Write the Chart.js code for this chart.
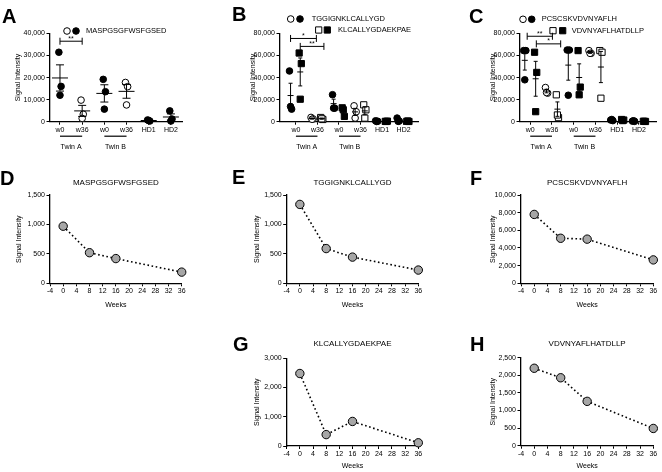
<!DOCTYPE html>
<html>
<head>
<meta charset="utf-8">
<script src="https://cdn.jsdelivr.net/npm/chart.js@4.4.1/dist/chart.umd.min.js"></script>
<style>
  body { margin: 0; background: #fff; }
  #fig { position: relative; width: 662px; height: 472px; overflow: hidden; }
  canvas { position: absolute; }
</style>
</head>
<body>
<div id="fig">
  <canvas id="cA" width="220" height="170" style="left:0;top:0;width:220px;height:170px"></canvas>
  <canvas id="cB" width="220" height="170" style="left:220px;top:0;width:220px;height:170px"></canvas>
  <canvas id="cC" width="222" height="170" style="left:440px;top:0;width:222px;height:170px"></canvas>
  <canvas id="cD" width="220" height="150" style="left:0;top:170px;width:220px;height:150px"></canvas>
  <canvas id="cE" width="220" height="150" style="left:220px;top:170px;width:220px;height:150px"></canvas>
  <canvas id="cF" width="222" height="150" style="left:440px;top:170px;width:222px;height:150px"></canvas>
  <canvas id="cG" width="220" height="152" style="left:220px;top:320px;width:220px;height:152px"></canvas>
  <canvas id="cH" width="222" height="152" style="left:440px;top:320px;width:222px;height:152px"></canvas>
</div>
<script>
// Categorias de los paneles A-C
const catLabels = ['w0', 'w36', 'w0', 'w36', 'HD1', 'HD2'];
const catAbierto = [false, true, false, true, false, false]; // w36 = simbolo abierto

// Panel A (3 valores por grupo)
const aMas = [[31500, 16000, 12000], [9800, 3400, 1500], [19200, 13600, 5700], [17800, 15900, 7600], [800, 300, 500], [4900, 1200, 300]];
// Panel B
const bTgg = [[46000, 11400, 13800], [3900, 2500, 2200], [24500, 12300, 12300], [14400, 9000, 3300], [800, 400, 200], [3300, 600, 300]];
const bKlc = [[62300, 52700, 20400], [3800, 2000, 2600], [12600, 4800, 10800], [15300, 10800, 3300], [300, 500, 200], [400, 200, 600]];
// Panel C
const cPcs = [[64500, 64500, 38000], [31000, 25900, 26500], [65000, 65000, 24000], [64500, 62000, 62000], [1500, 1000, 2000], [500, 300, 800]];
const cVdv = [[63000, 44700, 9100], [24400, 3700, 6100], [64500, 31400, 24400], [64500, 63000, 21300], [2000, 1500, 1000], [400, 200, 300]];

// Paneles D-H
const weeks = [0, 8, 16, 36];
const dMas = [970, 520, 420, 190];
const eTgg = [1340, 590, 445, 225];
const fPcs = [7800, 5100, 5000, 2650];
const gKlc = [2480, 390, 840, 110];
const hVdv = [2200, 1930, 1260, 490];

const fuente = "'Liberation Sans', Arial, sans-serif";
Chart.defaults.font.family = fuente;
Chart.defaults.font.size = 7;
Chart.defaults.color = '#000';
Chart.defaults.animation = false;
Chart.defaults.events = [];
Chart.defaults.plugins.legend.display = false;
Chart.defaults.plugins.tooltip.enabled = false;

// separacion horizontal pequeña entre puntos del mismo grupo
const jit = [-0.05, 0.05, 0];

function sinPadding(s) {
  s.paddingTop = 0; s.paddingBottom = 0; s.paddingLeft = 0; s.paddingRight = 0;
}

function ejeY(max, paso, ancho, tituloPad) {
  return {
    type: 'linear', min: 0, max: max,
    ticks: { stepSize: paso, padding: 1.5, callback: v => v.toLocaleString('en-US') },
    grid: { drawOnChartArea: false, tickLength: 3.5, color: '#000', lineWidth: 1 },
    border: { color: '#000', width: 1.3 },
    title: { display: true, text: 'Signal Intensity', padding: { top: tituloPad, bottom: 0 } },
    afterFit: s => { s.width = ancho; sinPadding(s); }
  };
}

function ejeCat(min, max, alto) {
  return {
    type: 'linear', min: min, max: max,
    afterBuildTicks: s => { s.ticks = catLabels.map((_, i) => ({ value: i })); },
    ticks: { callback: v => catLabels[v], padding: 1, maxRotation: 0, autoSkip: false },
    grid: { drawOnChartArea: false, tickLength: 3, color: '#000' },
    border: { color: '#000', width: 1.3 },
    afterFit: s => { s.height = alto; sinPadding(s); }
  };
}

function ejeWeeks(alto, pad) {
  return {
    type: 'linear', min: -4, max: 36,
    ticks: { stepSize: 4, padding: 1, maxRotation: 0, autoSkip: false },
    grid: { drawOnChartArea: false, tickLength: 3, color: '#000' },
    border: { color: '#000', width: 1.3 },
    title: { display: true, text: 'Weeks', padding: { top: 0, bottom: pad } },
    afterFit: s => { s.height = alto; sinPadding(s); }
  };
}

function puntos(valores, desplaz) {
  const pts = [];
  valores.forEach((grupo, g) => grupo.forEach((v, k) => pts.push({ x: g + desplaz + jit[k], y: v, g: g })));
  return pts;
}

function serie(valores, desplaz, forma, radio) {
  return {
    type: 'scatter',
    data: puntos(valores, desplaz),
    pointStyle: forma,
    pointRadius: radio,
    pointBorderColor: '#000',
    pointBorderWidth: 1,
    pointBackgroundColor: c => (c.raw && catAbierto[c.raw.g]) ? '#fff' : '#000',
    clip: false
  };
}

function media(a) { return a.reduce((s, v) => s + v, 0) / a.length; }
function sem(a) {
  const m = media(a);
  const sd = Math.sqrt(a.reduce((s, v) => s + (v - m) * (v - m), 0) / (a.length - 1));
  return sd / Math.sqrt(a.length);
}

// Decoracion de cada panel: letra, leyenda, barras de error, corchetes, etc.
const decoCfg = {
  cA: { letra: 'A', lx: 2, ly: 23,
        leyenda: [{ y: 31, sx: [67, 76], forma: 'circle', r: 3.3, tx: 86, texto: 'MASPGSGFWSFGSED' }],
        errores: [{ valores: aMas, desplaz: 0, mediaAncho: 8, cap: 4 }],
        corchetes: [[0, 1, 36500, '**']], gemelos: true },
  cB: { letra: 'B', lx: 12, ly: 21,
        leyenda: [{ y: 19, sx: [70.7, 80], forma: 'circle', r: 3.3, tx: 91.7, texto: 'TGGIGNKLCALLYGD' },
                  { y: 30, sx: [98.7, 107.3], forma: 'rect', r: 4.4, tx: 118, texto: 'KLCALLYGDAEKPAE' }],
        errores: [{ valores: bTgg, desplaz: -0.25, mediaAncho: 3, cap: 2 },
                  { valores: bKlc, desplaz: 0.2, mediaAncho: 3, cap: 2 }],
        corchetes: [[-0.25, 0.95, 75500, '*'], [0.2, 1.3, 68300, '**']], gemelos: true },
  cC: { letra: 'C', lx: 29, ly: 23,
        leyenda: [{ y: 19.3, sx: [83, 91.7], forma: 'circle', r: 3.3, tx: 101.7, texto: 'PCSCSKVDVNYAFLH' },
                  { y: 30.7, sx: [113, 122.7], forma: 'rect', r: 4.4, tx: 131.7, texto: 'VDVNYAFLHATDLLP' }],
        errores: [{ valores: cPcs, desplaz: -0.25, mediaAncho: 3, cap: 2 },
                  { valores: cVdv, desplaz: 0.25, mediaAncho: 3, cap: 2 }],
        corchetes: [[-0.14, 1.02, 77500, '**'], [0.28, 1.4, 70600, '*']], gemelos: true },
  cD: { letra: 'D', lx: 0, ly: 15, titulo: 'MASPGSGFWSFGSED', ty: 13 },
  cE: { letra: 'E', lx: 12, ly: 14, titulo: 'TGGIGNKLCALLYGD', ty: 13 },
  cF: { letra: 'F', lx: 30, ly: 15, titulo: 'PCSCSKVDVNYAFLH', ty: 13 },
  cG: { letra: 'G', lx: 13, ly: 31, titulo: 'KLCALLYGDAEKPAE', ty: 24 },
  cH: { letra: 'H', lx: 30, ly: 31, titulo: 'VDVNYAFLHATDLLP', ty: 24 }
};

const deco = {
  id: 'deco',
  afterDatasetsDraw(chart) {
    const o = decoCfg[chart.canvas.id];
    if (!o) return;
    const ctx = chart.ctx;
    const xs = chart.scales.x, ys = chart.scales.y;
    const area = chart.chartArea;
    ctx.save();
    ctx.fillStyle = '#000';
    ctx.strokeStyle = '#000';

    // letra del panel
    ctx.font = 'bold 20px ' + fuente;
    ctx.textAlign = 'left';
    ctx.textBaseline = 'alphabetic';
    ctx.fillText(o.letra, o.lx, o.ly);

    // titulo (paneles D-H)
    if (o.titulo) {
      ctx.font = '8px ' + fuente;
      ctx.textAlign = 'center';
      ctx.textBaseline = 'middle';
      ctx.fillText(o.titulo, (area.left + area.right) / 2, o.ty);
    }

    // leyenda
    (o.leyenda || []).forEach(l => {
      l.sx.forEach((sx, i) => {
        ctx.fillStyle = i === 0 ? '#fff' : '#000';
        ctx.lineWidth = 1;
        Chart.helpers.drawPoint(ctx, { pointStyle: l.forma, radius: l.r, rotation: 0, borderWidth: 1 }, sx, l.y);
      });
      ctx.fillStyle = '#000';
      ctx.font = '7.5px ' + fuente;
      ctx.textAlign = 'left';
      ctx.textBaseline = 'middle';
      ctx.fillText(l.texto, l.tx, l.y);
    });

    // media +/- SEM
    (o.errores || []).forEach(e => {
      e.valores.forEach((grupo, g) => {
        const m = media(grupo), s = sem(grupo);
        const px = xs.getPixelForValue(g + e.desplaz);
        const pm = ys.getPixelForValue(m);
        const p1 = ys.getPixelForValue(m + s);
        const p2 = ys.getPixelForValue(Math.max(m - s, 0));
        ctx.lineWidth = 1;
        ctx.beginPath();
        ctx.moveTo(px, p1); ctx.lineTo(px, p2);
        ctx.moveTo(px - e.cap, p1); ctx.lineTo(px + e.cap, p1);
        ctx.moveTo(px - e.cap, p2); ctx.lineTo(px + e.cap, p2);
        ctx.moveTo(px - e.mediaAncho, pm); ctx.lineTo(px + e.mediaAncho, pm);
        ctx.stroke();
      });
    });

    // corchetes de significancia
    (o.corchetes || []).forEach(c => {
      const x1 = xs.getPixelForValue(c[0]), x2 = xs.getPixelForValue(c[1]);
      const yy = ys.getPixelForValue(c[2]);
      ctx.lineWidth = 1;
      ctx.beginPath();
      ctx.moveTo(x1, yy - 3.5); ctx.lineTo(x1, yy + 3.5);
      ctx.moveTo(x1, yy); ctx.lineTo(x2, yy);
      ctx.moveTo(x2, yy - 3.5); ctx.lineTo(x2, yy + 3.5);
      ctx.stroke();
      ctx.font = '7px ' + fuente;
      ctx.textAlign = 'center';
      ctx.textBaseline = 'middle';
      ctx.fillText(c[3], (x1 + x2) / 2, yy - 2.5);
    });

    // Twin A / Twin B bajo el eje
    if (o.gemelos) {
      ctx.font = '7px ' + fuente;
      ctx.textAlign = 'center';
      ctx.textBaseline = 'middle';
      [['Twin A', 0], ['Twin B', 2]].forEach(t => {
        const x1 = xs.getPixelForValue(t[1]), x2 = xs.getPixelForValue(t[1] + 1);
        ctx.lineWidth = 1.2;
        ctx.beginPath();
        ctx.moveTo(x1, area.bottom + 14.5); ctx.lineTo(x2, area.bottom + 14.5);
        ctx.stroke();
        ctx.fillText(t[0], (x1 + x2) / 2, area.bottom + 25.5);
      });
    }
    ctx.restore();
  }
};

function panelPuntos(id, datasets, ejeX, ejeYcfg, padding) {
  new Chart(document.getElementById(id), {
    type: 'scatter',
    data: { datasets: datasets },
    options: {
      responsive: false,
      layout: { padding: padding },
      scales: { x: ejeX, y: ejeYcfg }
    },
    plugins: [deco]
  });
}

function panelCurva(id, valores, ejeX, ejeYcfg, padding) {
  new Chart(document.getElementById(id), {
    type: 'line',
    data: {
      datasets: [{
        data: weeks.map((w, i) => ({ x: w, y: valores[i] })),
        borderColor: '#000',
        borderWidth: 1.6,
        borderDash: [1.6, 2.6],
        tension: 0,
        pointRadius: 4.2,
        pointBackgroundColor: '#a6a6a6',
        pointBorderColor: '#000',
        pointBorderWidth: 1,
        clip: false
      }]
    },
    options: {
      responsive: false,
      layout: { padding: padding },
      scales: { x: ejeX, y: ejeYcfg }
    },
    plugins: [deco]
  });
}

// Fila superior
panelPuntos('cA', [serie(aMas, 0, 'circle', 3.3)],
  ejeCat(-0.45, 5.5, 48.3), ejeY(40000, 10000, 50, 13.8),
  { left: 0, top: 33.5, right: 38, bottom: 0 });
panelPuntos('cB', [serie(bTgg, -0.25, 'circle', 3.3), serie(bKlc, 0.2, 'rect', 4.4)],
  ejeCat(-0.74, 5.67, 48.3), ejeY(80000, 20000, 60, 28.8),
  { left: 0, top: 33.5, right: 22, bottom: 0 });
panelPuntos('cC', [serie(cPcs, -0.25, 'circle', 3.3), serie(cVdv, 0.25, 'rect', 4.4)],
  ejeCat(-0.47, 5.81, 48.3), ejeY(80000, 20000, 80, 48.8),
  { left: 0, top: 33.5, right: 2, bottom: 0 });

// Curvas en el tiempo
panelCurva('cD', dMas, ejeWeeks(36.7, 10.5), ejeY(1500, 500, 50, 14.8),
  { left: 0, top: 25, right: 38.3, bottom: 0 });
panelCurva('cE', eTgg, ejeWeeks(36.7, 10.5), ejeY(1500, 500, 66.7, 32.5),
  { left: 0, top: 25, right: 21.7, bottom: 0 });
panelCurva('cF', fPcs, ejeWeeks(36.7, 10.5), ejeY(10000, 2000, 81, 49.1),
  { left: 0, top: 25, right: 8.7, bottom: 0 });
panelCurva('cG', gKlc, ejeWeeks(26, 2), ejeY(3000, 1000, 66.7, 32.5),
  { left: 0, top: 38.3, right: 21.7, bottom: 0 });
panelCurva('cH', hVdv, ejeWeeks(26.3, 2), ejeY(2500, 500, 81, 49.1),
  { left: 0, top: 37.7, right: 8.7, bottom: 0 });
</script>
</body>
</html>
